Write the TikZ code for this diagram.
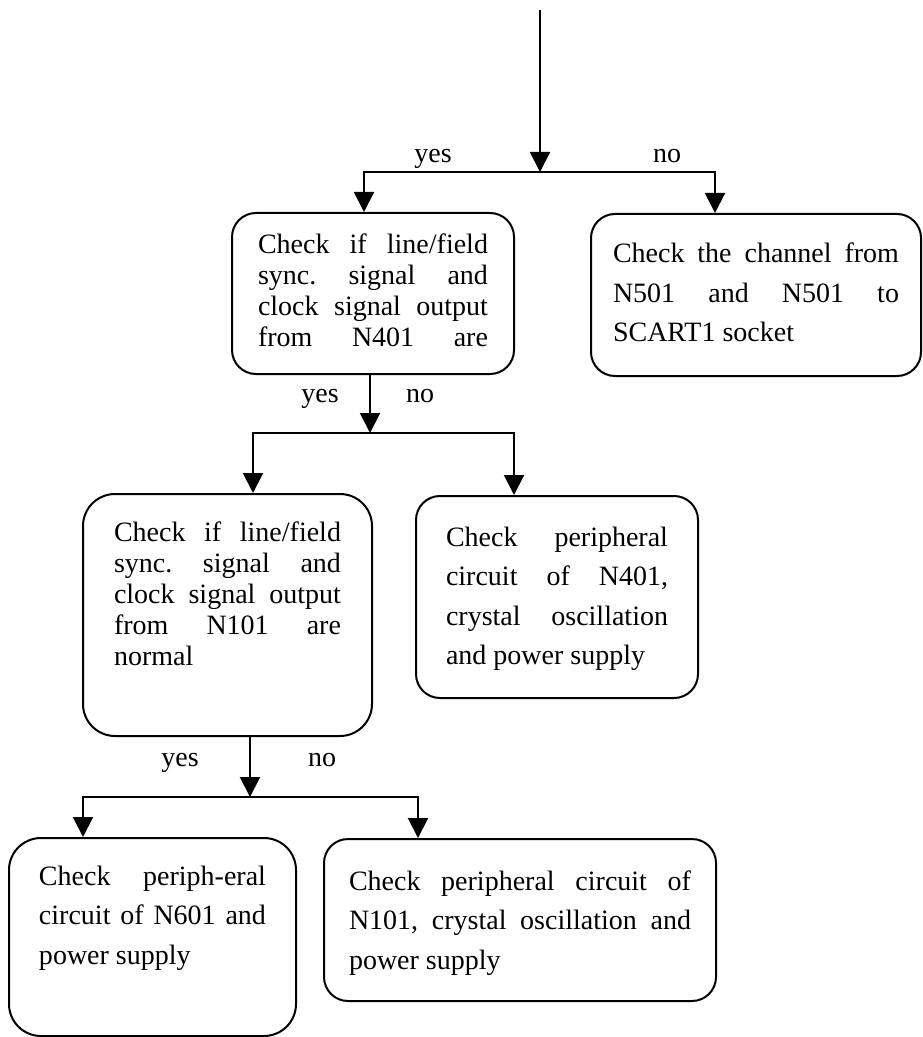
\documentclass[tikz,border=0pt]{standalone}
\usepackage{fontspec}
\setmainfont{Liberation Serif}
\usetikzlibrary{arrows.meta}
\frenchspacing

\tikzset{
  box/.style={draw, line width=1pt, rounded corners=12pt, align=justify, inner ysep=0pt, anchor=north west},
  askbox/.style={box, font=\fontsize{14pt}{15.5pt}\selectfont},
  fixbox/.style={box, font=\fontsize{14pt}{19.75pt}\selectfont},
  flow/.style={line width=1pt, -{Triangle[width=10pt,length=10pt]}},
  answer/.style={anchor=base, font=\fontsize{14pt}{16pt}\selectfont}
}

\begin{document}
\begin{tikzpicture}[x=0.5pt, y=-0.5pt]
\useasboundingbox[fill=white] (0,0) rectangle (922,1037);
% boxes
\node[askbox, inner xsep=13pt, text width=115pt, text height=20.5pt, text depth=60pt] (a) at (231,212)
  {Check if line/field\linebreak sync. signal and\linebreak clock signal output\linebreak \makebox[\hsize][s]{from N401 are}};
\node[fixbox, inner xsep=11pt, text width=143pt, text height=24.5pt, text depth=56.5pt] (b) at (590,213)
  {Check the channel from\linebreak N501 and N501 to\linebreak SCART1 socket};
\node[askbox, rounded corners=16pt, inner xsep=15.5pt, text width=113.5pt, text height=23.5pt, text depth=97.5pt] (c) at (82,493)
  {Check if line/field\linebreak sync. signal and\linebreak clock signal output\linebreak from N101 are\linebreak normal};
\node[fixbox, inner xsep=15pt, text width=111pt, text height=25pt, text depth=76pt] (d) at (415,495)
  {Check peripheral\linebreak circuit of N401,\linebreak crystal oscillation\linebreak and power supply};
\node[fixbox, rounded corners=16pt, inner xsep=15pt, text width=113.5pt, text height=23.5pt, text depth=75.5pt] (e) at (8,837)
  {Check periph-eral\linebreak circuit of N601 and\linebreak power supply};
\node[fixbox, inner xsep=12.5pt, text width=171pt, text height=25.5pt, text depth=55.5pt] (f) at (323,838)
  {Check peripheral circuit of\linebreak N101, crystal oscillation and\linebreak power supply};
% answers
\node[answer] (yes1) at (433,163) {yes};
\node[answer] (no1) at (667,163) {no};
\node[answer] (yes2) at (320,402) {yes};
\node[answer] (no2) at (420,402) {no};
\node[answer] (yes3) at (180,766) {yes};
\node[answer] (no3) at (322,766) {no};
% connectors
\coordinate (top) at (540,10);
\coordinate (j1) at (540,172);
\coordinate (j2) at (370,433);
\coordinate (j3) at (250,797);
\draw[flow] (top) -- (j1);
\draw[flow] (j1) -| ([xshift=-4.5pt]a.north);
\draw[flow] (j1) -| ([xshift=-20.5pt]b.north);
\draw[flow] (a.south -| j2) -- (j2);
\draw[flow] (j2) -| ([xshift=12.75pt]c.north);
\draw[flow] (j2) -| ([xshift=-21.5pt]d.north);
\draw[flow] (c.south -| j3) -- (j3);
\draw[flow] (j3) -| ([xshift=-34.75pt]e.north);
\draw[flow] (j3) -| ([xshift=-51pt]f.north);
\end{tikzpicture}
\end{document}
